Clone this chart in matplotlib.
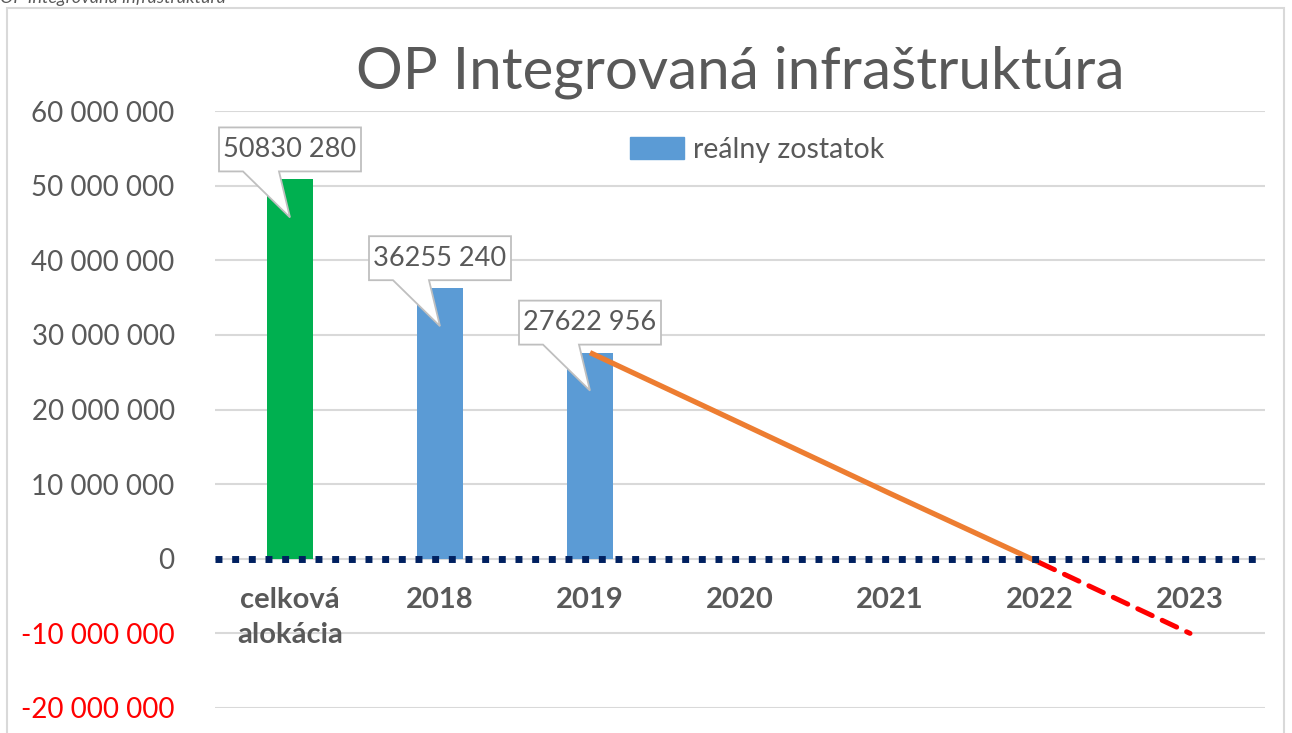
import numpy as np
import matplotlib
matplotlib.use('Agg')
import matplotlib.pyplot as plt
import matplotlib.transforms as mtransforms
from matplotlib.patches import Polygon, Rectangle, Patch

# data
categories = ['celková\nalokácia', '2018', '2019', '2020', '2021', '2022', '2023']
bar_values = [50830280, 36255240, 27622956]
bar_labels = ['50830 280', '36255 240', '27622 956']
trend_idx = [2, 3, 4, 5]
trend_values = [27622956, 18200000, 8750000, -550000]
deficit_idx = [5, 6]
deficit_values = [-550000, -10000000]
yticks = [-20000000, -10000000, 0, 10000000, 20000000, 30000000, 40000000, 50000000, 60000000]

plt.rcParams['font.family'] = ['Lato', 'DejaVu Sans']
grey = '#595959'

fig = plt.figure(figsize=(12.92, 7.33), dpi=100)
ax = fig.add_axes([215/1292, (733-708)/733, 1050/1292, (708-111)/733])

# outer chart frame
fig.patches.append(Rectangle((7/1292, -0.1), 1277/1292, 1.1 - 8/733, transform=fig.transFigure,
                             fill=False, edgecolor='#D9D9D9', linewidth=1.5))
fig.text(0, 1 - 3/733, 'OP Integrovaná infraštruktúra', fontsize=13, style='italic',
         color=grey, va='baseline', ha='left')

x = np.arange(len(categories))
colors = ['#00B050', '#5B9BD5', '#5B9BD5']
ax.bar(x[:3], bar_values, width=0.31, color=colors, zorder=3)

ax.plot(trend_idx, trend_values, color='#ED7D31', linewidth=3.8, zorder=4, solid_capstyle='butt')
ax.plot(deficit_idx, deficit_values, color='#FF0000', linewidth=3.6, zorder=4,
        linestyle=(0, (3.2, 2.2)), dash_capstyle='round')

ax.axhline(0, color='#002060', linewidth=5, linestyle=(0, (1, 1.4)), dash_capstyle='butt', zorder=5)

ax.set_xlim(-0.5, len(categories) - 0.5)
ax.set_ylim(-20000000, 60000000)
ax.set_yticks(yticks)
ax.set_yticklabels([f'{v:,}'.replace(',', ' ') for v in yticks], fontsize=20)
for lbl, v in zip(ax.get_yticklabels(), yticks):
    lbl.set_color('#FF0000' if v < 0 else grey)
ax.tick_params(axis='y', length=0, pad=29)
ax.set_xticks([])
ax.grid(axis='y', color='#D9D9D9', linewidth=1.5, zorder=0)
for s in ax.spines.values():
    s.set_visible(False)

# category labels next to zero line
for i, c in enumerate(categories):
    ax.annotate(c, (i, 0), xytext=(0, -20), textcoords='offset points', ha='center', va='top',
                fontsize=21, fontweight='bold', color=grey, linespacing=1.45)

# callout data labels
for i, (v, t) in enumerate(zip(bar_values, bar_labels)):
    tr = fig.dpi_scale_trans + mtransforms.ScaledTranslation(i, v, ax.transData)
    pts = np.array([(-71, 8), (-47, 8), (0, -38), (-11, 8), (71, 8), (71, 52), (-71, 52)]) / 100
    ax.add_patch(Polygon(pts, closed=True, transform=tr, facecolor='white', edgecolor='#BFBFBF',
                         linewidth=1.3, zorder=6, clip_on=False))
    ax.text(0, 0.30, t, transform=tr, ha='center', va='center', fontsize=19.5, color=grey, zorder=7)

ax.set_title('OP Integrovaná infraštruktúra', fontsize=42, color=grey, pad=16)

ax.legend(handles=[Patch(color='#5B9BD5', label='reálny zostatok')], loc='center',
          bbox_to_anchor=(757/1292, 1 - 150/733), bbox_transform=fig.transFigure, frameon=False,
          fontsize=20.5, labelcolor=grey, handlelength=1.9, handleheight=0.8, handletextpad=0.3)

fig.savefig('out.png', dpi=100)
